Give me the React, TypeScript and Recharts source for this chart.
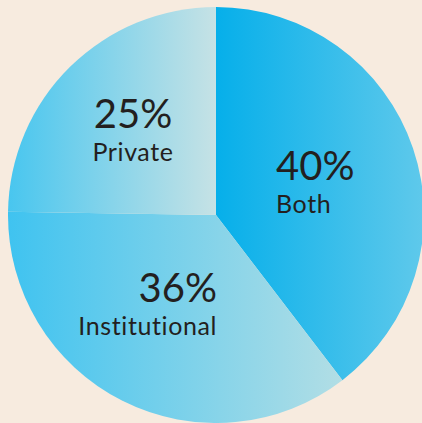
import React from "react";
import { PieChart, Pie, Cell } from "recharts";

const categories = ["Both", "Institutional", "Private"];
const shares = [40, 36, 25];
const percentLabels = ["40%", "36%", "25%"];

const gradients = [
  { id: "gBoth", from: "#06afea", to: "#5fc9eb" },
  { id: "gInst", from: "#3fc3f0", to: "#b2dee5" },
  { id: "gPriv", from: "#48c6ef", to: "#c6e2e5" },
];

const data = categories.map((name, i) => ({ name, value: shares[i], pct: percentLabels[i] }));

// label layout relative to the pie centre (styling only)
const labelLayout: Record<string, { dx: number; dy: number; anchor: "start" | "middle" | "end" }> = {
  Both: { dx: 60, dy: -35, anchor: "start" },
  Institutional: { dx: 1, dy: 87, anchor: "end" },
  Private: { dx: -83, dy: -87, anchor: "middle" },
};

const textStyle: React.CSSProperties = { fontVariantLigatures: "none", fontFeatureSettings: '"liga" 0, "clig" 0' };

const renderLabel = (props: any) => {
  const { cx, cy, index } = props;
  const d = data[index];
  const l = labelLayout[d.name];
  const x = cx + l.dx;
  const y = cy + l.dy;
  return (
    <g key={`lbl-${index}`}>
      <text x={x} y={y} textAnchor={l.anchor} fill="#231f20" fontSize={40} fontFamily="Lato, sans-serif" style={textStyle}>
        {d.pct}
      </text>
      <text x={x} y={y + 33} textAnchor={l.anchor} fill="#231f20" fontSize={25} letterSpacing={0.6} fontFamily="Lato, sans-serif" style={textStyle}>
        {d.name}
      </text>
    </g>
  );
};

export default function App() {
  return (
    <div style={{ position: "absolute", left: 0, top: 0, width: 422, height: 423, background: "#f7ebdf", overflow: "hidden" }}>
      <PieChart width={422} height={423} margin={{ top: 0, right: 0, bottom: 0, left: 0 }}>
        <defs>
          {gradients.map((g) => (
            <linearGradient key={g.id} id={g.id} x1="0" y1="0" x2="1" y2="0">
              <stop offset="0%" stopColor={g.from} />
              <stop offset="100%" stopColor={g.to} />
            </linearGradient>
          ))}
        </defs>
        <Pie
          data={data}
          dataKey="value"
          nameKey="name"
          cx={216}
          cy={215}
          outerRadius={208}
          startAngle={90}
          endAngle={-270}
          stroke="none"
          labelLine={false}
          label={renderLabel}
          isAnimationActive={false}
        >
          {data.map((d, i) => (
            <Cell key={d.name} fill={`url(#${gradients[i].id})`} />
          ))}
        </Pie>
      </PieChart>
    </div>
  );
}
